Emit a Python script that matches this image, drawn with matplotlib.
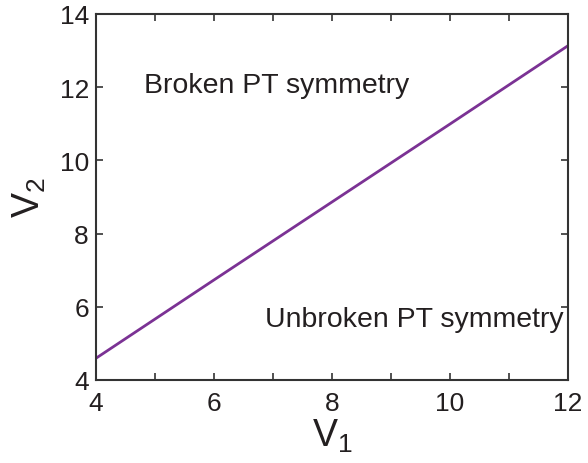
import matplotlib.pyplot as plt
from matplotlib.ticker import MultipleLocator

plt.rcParams['font.family'] = ['Liberation Sans', 'DejaVu Sans']

# phase boundary between broken and unbroken PT symmetry
v1 = [4, 6, 8, 10, 12]
v2 = [4.59, 6.73, 8.86, 10.99, 13.13]

ink = '#231f20'
fig = plt.figure(figsize=(5.88, 4.64), dpi=100)
ax = fig.add_axes([0.163, 0.179, 0.803, 0.789])

ax.plot(v1, v2, color='#7b3294', lw=2)

ax.set_xlim(4, 12)
ax.set_ylim(4, 14)
ax.xaxis.set_major_locator(MultipleLocator(2))
ax.xaxis.set_minor_locator(MultipleLocator(1))
ax.yaxis.set_major_locator(MultipleLocator(2))
ax.tick_params(which='both', direction='in', top=True, right=True,
               length=5, width=1.2, color='#333333', labelsize=19,
               labelcolor=ink)
ax.tick_params(axis='x', pad=8)
ax.tick_params(axis='y', pad=5)
for s in ax.spines.values():
    s.set_linewidth(1.5)
    s.set_color('#333333')

ax.set_xlabel('V$_\\mathregular{1}$', fontsize=27, color=ink, labelpad=1)
ax.set_ylabel('V$_\\mathregular{2}$', fontsize=27, color=ink, labelpad=8)

ax.text(7.07, 12.06, 'Broken PT symmetry', fontsize=20.5, color=ink,
        ha='center', va='center')
ax.text(9.39, 5.67, 'Unbroken PT symmetry', fontsize=20.5, color=ink,
        ha='center', va='center')

fig.savefig('out.png', dpi=100)
